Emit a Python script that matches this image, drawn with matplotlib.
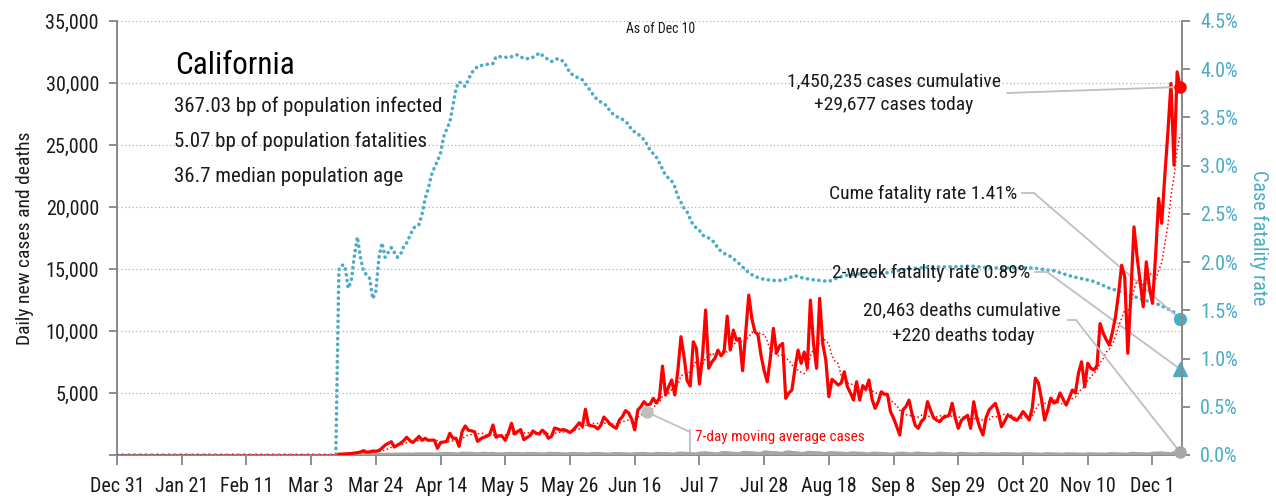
import numpy as np
import pandas as pd
import matplotlib
matplotlib.use('Agg')
import matplotlib.pyplot as plt
from matplotlib import font_manager
from matplotlib.ticker import FuncFormatter, MultipleLocator
from matplotlib.lines import Line2D

# ---------------- data ----------------
start_date = '2019-12-31'

cases = [
    0, 0, 0, 0, 0, 0, 0,
    0, 0, 0, 0, 0, 0, 0,
    0, 0, 0, 0, 0, 0, 0,
    0, 0, 0, 0, 0, 0, 0,
    0, 0, 0, 0, 0, 0, 0,
    0, 0, 0, 0, 0, 0, 0,
    0, 0, 0, 0, 0, 0, 0,
    0, 0, 0, 0, 0, 0, 0,
    0, 0, 0, 0, 0, 0, 0,
    0, 0, 0, 0, 0, 0, 0,
    0, 0, 60, 70, 90, 100, 120,
    150, 190, 240, 350, 230, 250, 320,
    300, 360, 560, 800, 940, 1070, 640,
    800, 940, 1150, 1430, 1180, 1000, 1250,
    1500, 1180, 1350, 1180, 1200, 1180, 540,
    1000, 1050, 1100, 1750, 1350, 1350, 700,
    1900, 2340, 2000, 1950, 1880, 1100, 1300,
    1430, 1500, 1690, 2420, 1430, 1560, 1500,
    1180, 1800, 2550, 1690, 1900, 2050, 1240,
    1400, 1560, 1940, 1750, 1690, 2000, 1800,
    1350, 1500, 2180, 2100, 2000, 2050, 1950,
    1810, 2000, 2300, 2600, 2300, 3690, 2420,
    2350, 2300, 2100, 2400, 3060, 2800, 2500,
    2300, 2150, 2820, 3090, 3580, 3400, 2900,
    2020, 3630, 3900, 4300, 4030, 4100, 4570,
    4200, 4600, 7170, 4840, 5500, 6050, 4840,
    6800, 9540, 7920, 6000, 5560, 9130, 8600,
    5720, 8000, 11690, 6990, 7500, 7790, 8460,
    8000, 8300, 11200, 8460, 10075, 9270, 9400,
    6800, 9800, 12900, 11000, 9940, 9700, 8000,
    6800, 5910, 7800, 10210, 8200, 8800, 9000,
    4570, 5000, 5240, 7000, 8460, 7390, 8300,
    7000, 12490, 9000, 6990, 12630, 9000, 7660,
    4700, 6100, 5900, 5640, 5800, 6710, 5500,
    5000, 4430, 5910, 4430, 5600, 5300, 6050,
    4500, 3760, 4300, 5100, 4900, 4900, 3500,
    2960, 2300, 1610, 3630, 3900, 4430, 3300,
    2400, 2150, 2700, 2960, 4300, 3600, 3000,
    2800, 2690, 3000, 3100, 3200, 4170, 3000,
    2150, 2800, 3000, 3200, 2150, 4300, 3000,
    2200, 1610, 3000, 3630, 3900, 4170, 3400,
    2280, 2700, 3200, 3100, 2900, 2800, 3100,
    3500, 3200, 2820, 3800, 6200, 5800, 4500,
    2820, 3600, 4590, 4190, 4300, 5000, 4500,
    4030, 4600, 5240, 5000, 6610, 7520, 5500,
    7400, 7000, 6850, 7200, 10600, 9830, 9300,
    8870, 9900, 11150, 13030, 15300, 14370, 8200,
    13000, 18400, 16000, 14000, 11950, 15580, 13500,
    12230, 16000, 20690, 18680, 22500, 26000, 29960,
    23370, 30900, 29677,
]

deaths = [
    0, 0, 0, 0, 0, 0, 0,
    0, 0, 0, 0, 0, 0, 0,
    0, 0, 0, 0, 0, 0, 0,
    0, 0, 0, 0, 0, 0, 0,
    0, 0, 0, 0, 0, 0, 0,
    0, 0, 0, 0, 0, 0, 0,
    0, 0, 0, 0, 0, 0, 0,
    0, 0, 0, 0, 0, 0, 0,
    0, 0, 0, 0, 0, 0, 0,
    0, 0, 0, 0, 0, 0, 0,
    0, 0, 1, 2, 1, 0, 1,
    3, 2, 5, 3, 4, 6, 8,
    10, 12, 14, 18, 20, 15, 25,
    23, 30, 28, 40, 35, 27, 50,
    60, 45, 60, 48, 50, 30, 40,
    70, 80, 90, 65, 70, 50, 40,
    110, 95, 85, 90, 65, 50, 80,
    95, 80, 70, 90, 60, 55, 45,
    70, 85, 80, 75, 90, 60, 45,
    80, 75, 85, 70, 60, 50, 40,
    95, 75, 70, 85, 60, 50, 40,
    70, 80, 75, 60, 65, 50, 45,
    70, 80, 75, 65, 60, 40, 35,
    75, 70, 80, 60, 55, 40, 30,
    65, 70, 75, 80, 60, 45, 40,
    90, 85, 80, 70, 60, 40, 35,
    100, 110, 90, 80, 70, 50, 40,
    110, 120, 140, 100, 90, 60, 50,
    130, 150, 140, 120, 100, 80, 60,
    160, 170, 150, 130, 120, 90, 80,
    190, 200, 160, 150, 140, 100, 90,
    180, 210, 160, 150, 120, 90, 80,
    160, 170, 150, 140, 130, 90, 60,
    140, 150, 130, 120, 110, 80, 60,
    120, 130, 110, 100, 90, 60, 40,
    100, 110, 90, 80, 70, 50, 30,
    30, 90, 100, 110, 80, 60, 40,
    100, 110, 90, 80, 70, 50, 30,
    90, 100, 80, 70, 60, 40, 30,
    80, 90, 70, 60, 50, 40, 30,
    70, 80, 60, 55, 50, 35, 25,
    65, 70, 60, 55, 45, 30, 25,
    60, 65, 55, 50, 45, 30, 20,
    55, 60, 50, 45, 40, 30, 20,
    50, 55, 45, 40, 35, 25, 20,
    50, 60, 45, 40, 40, 30, 25,
    60, 70, 55, 50, 45, 30, 25,
    80, 90, 70, 60, 50, 40, 35,
    100, 110, 120, 130, 100, 80, 60,
    150, 190, 220,
]

# cumulative case fatality rate (%), day offset from start
cfr_day = [0, 71, 72, 73, 74, 75, 76, 77, 78, 79, 80, 81, 82, 83, 84, 85, 86, 87, 88,
           89, 90, 91, 92, 93, 94, 95, 96, 97, 98, 99, 100, 101, 102, 103, 104, 105,
           106, 107, 108, 109, 110, 111, 113, 114, 115, 117, 120, 122, 123, 125, 127,
           130, 132, 134, 136, 137, 139, 141, 143, 145, 147, 149, 151, 154, 155, 157,
           159, 160, 162, 164, 166, 167, 169, 171, 172, 173, 175, 176, 178, 180, 181,
           182, 184, 185, 187, 189, 190, 192, 194, 195, 197, 199, 201, 203, 205, 207,
           210, 213, 216, 220, 222, 225, 228, 231, 234, 236, 241, 245, 250, 255, 260,
           265, 270, 277, 283, 290, 297, 304, 310, 317, 322, 327, 332, 338, 342, 344,
           345]
cfr_pct = [0.0, 0.0, 1.92, 1.97, 1.96, 1.73, 1.80, 2.06, 2.26, 2.05, 1.90, 1.87, 1.83,
           1.62, 1.70, 2.05, 2.20, 2.05, 2.10, 2.15, 2.10, 2.05, 2.08, 2.16, 2.20, 2.27,
           2.34, 2.38, 2.39, 2.50, 2.66, 2.76, 2.90, 2.98, 3.05, 3.13, 3.30, 3.38, 3.45,
           3.62, 3.80, 3.87, 3.82, 3.89, 3.96, 4.03, 4.05, 4.06, 4.13, 4.13, 4.12, 4.15,
           4.11, 4.11, 4.14, 4.17, 4.12, 4.08, 4.11, 4.08, 3.96, 3.92, 3.89, 3.76, 3.71,
           3.66, 3.62, 3.56, 3.51, 3.48, 3.43, 3.37, 3.33, 3.27, 3.22, 3.16, 3.09, 3.03,
           2.90, 2.84, 2.78, 2.68, 2.56, 2.52, 2.38, 2.33, 2.28, 2.25, 2.20, 2.14, 2.09,
           2.06, 2.01, 1.95, 1.89, 1.85, 1.82, 1.81, 1.81, 1.86, 1.84, 1.82, 1.81, 1.80,
           1.84, 1.86, 1.88, 1.88, 1.89, 1.92, 1.94, 1.95, 1.95, 1.96, 1.94, 1.94, 1.94,
           1.91, 1.85, 1.80, 1.73, 1.68, 1.62, 1.56, 1.50, 1.46, 1.41]

two_week_rate = 0.89
cume_rate = 1.41
cases_today = 29677
deaths_today = 220
title = 'California'
stats_lines = ['367.03 bp of population infected',
               '5.07 bp of population fatalities',
               '36.7 median population age']
cases_note = ['1,450,235 cases cumulative', '+29,677 cases today']
deaths_note = ['20,463 deaths cumulative', '+220 deaths today']
cume_note = 'Cume fatality rate 1.41%'
twowk_note = '2-week fatality rate 0.89%'
asof = 'As of Dec 10'
ma_label = '7-day moving average cases'
legend_day = 172

# ---------------- style ----------------
avail = {f.name for f in font_manager.fontManager.ttflist}
FONT = 'DejaVu Sans'
STRETCH = 'normal'
for cand in ['Roboto Condensed', 'Liberation Sans Narrow', 'Open Sans Condensed']:
    if cand in avail:
        FONT = cand
        break
else:
    STRETCH = 'condensed'
plt.rcParams['font.family'] = [FONT, 'DejaVu Sans']
plt.rcParams['font.stretch'] = STRETCH

RED = '#FF0000'
TEAL = '#4BACC6'
GRAY = '#A6A6A6'
AX_GRAY = '#8C8C8C'
LEAD = '#BFBFBF'
TXT = '#1A1A1A'

W, H = 1276, 500
fig = plt.figure(figsize=(W / 100, H / 100), dpi=100)
ax = fig.add_axes([117 / W, 45 / H, (1182 - 117) / W, (455 - 21) / H])
ax2 = ax.twinx()

start = pd.Timestamp(start_date)
dates = pd.date_range(start, periods=len(cases), freq='D')
s_cases = pd.Series(cases, index=dates, dtype=float)
s_deaths = pd.Series(deaths, index=dates, dtype=float)
ma = s_cases.rolling(7, min_periods=1).mean()

first_case = s_cases[s_cases > 0].index[0]
first_death = s_deaths[s_deaths > 0].index[0]

# teal cfr on right axis
cfr_dates = [start + pd.Timedelta(days=d) for d in cfr_day]
ax2.plot(cfr_dates, cfr_pct, color=TEAL, lw=2.6, linestyle=(0, (0.05, 1.55)),
         dash_capstyle='round', zorder=2)

# left axis series
ax.plot(ma.index, ma.values, color=RED, lw=1.1, linestyle=(0, (1, 1.6)), zorder=3)
sc = s_cases[s_cases.index >= first_case]
ax.plot(sc.index, sc.values, color=RED, lw=2.3, zorder=4, solid_joinstyle='round')
sd = s_deaths[s_deaths.index >= first_death]
ax.plot(sd.index, sd.values, color=GRAY, lw=3.0, zorder=3.5)

end = dates[-1]
ax.plot([end], [cases_today], 'o', color=RED, ms=8, clip_on=False, zorder=6)
ax.plot([end], [deaths_today], 'o', color=GRAY, ms=8, clip_on=False, zorder=6)
ax2.plot([end], [cume_rate], 'o', color=TEAL, ms=8.5, clip_on=False, zorder=6)
ax2.plot([end], [two_week_rate], '^', color=TEAL, ms=9.5, clip_on=False, zorder=6)

# legend dot on MA line
leg_date = start + pd.Timedelta(days=legend_day)
ax.plot([leg_date], [ma.loc[leg_date]], 'o', color='#BFBFBF', ms=8, zorder=6)

ax.set_zorder(ax2.get_zorder() + 1)
ax.patch.set_visible(False)

# axes limits and ticks
ax.set_xlim(start, end + pd.Timedelta(hours=14))
ax.set_ylim(0, 35000)
ax2.set_ylim(0, 4.5)
xt = pd.date_range(start, end, freq='21D')
ax.set_xticks(xt)
ax.set_xticklabels([f"{d:%b} {d.day}" for d in xt])
ax.yaxis.set_major_locator(MultipleLocator(5000))
ax.yaxis.set_major_formatter(FuncFormatter(lambda v, p: '' if v == 0 else f'{v:,.0f}'))
ax2.yaxis.set_major_locator(MultipleLocator(0.5))
ax2.yaxis.set_major_formatter(FuncFormatter(lambda v, p: f'{v:.1f}%'))

for a in (ax, ax2):
    a.spines['top'].set_visible(False)
    for sp in ('left', 'right', 'bottom'):
        a.spines[sp].set_color(AX_GRAY)
        a.spines[sp].set_linewidth(1.4)

ax.tick_params(axis='x', direction='out', length=7, width=1.4, color=AX_GRAY,
               labelsize=14.5, pad=9, labelcolor=TXT)
ax.tick_params(axis='y', direction='out', length=6, width=1.4, color=AX_GRAY,
               labelsize=14.5, pad=7, labelcolor=TXT)
ax2.tick_params(axis='y', direction='out', length=6, width=1.4, color=AX_GRAY,
                labelsize=14.5, pad=7, labelcolor=TEAL)

ax.yaxis.grid(True, linestyle=(0, (1, 2)), color='#B0B0B0', lw=0.9)
ax.set_axisbelow(True)

ax.set_ylabel('Daily new cases and deaths', fontsize=14, color=TXT, labelpad=8)
ax2.set_ylabel('Case fatality rate', fontsize=14.5, color=TEAL, rotation=270, labelpad=22)


def P(x, y):
    return (x / W, 1 - y / H)


# texts
fig.text(*P(175, 66), title, fontsize=22.5, color='black', ha='left', va='center')
for i, line in enumerate(stats_lines):
    fig.text(*P(174, 106 + 35.5 * i), line, fontsize=15, color=TXT, ha='left', va='center')
fig.text(*P(661, 29), asof, fontsize=10, color=TXT, ha='center', va='center')
fig.text(*P(894, 81), cases_note[0], fontsize=14, color=TXT, ha='center', va='center')
fig.text(*P(894, 105), cases_note[1], fontsize=14, color=TXT, ha='center', va='center')
fig.text(*P(1017, 194), cume_note, fontsize=14, color=TXT, ha='right', va='center')
fig.text(*P(1030, 273), twowk_note, fontsize=14, color=TXT, ha='right', va='center')
fig.text(*P(962, 310), deaths_note[0], fontsize=14, color=TXT, ha='center', va='center')
fig.text(*P(963, 336), deaths_note[1], fontsize=14, color=TXT, ha='center', va='center')
fig.text(*P(695, 437), ma_label, fontsize=11, color=RED, ha='left', va='center')


def fig_line(pts):
    xs = [p[0] / W for p in pts]
    ys = [1 - p[1] / H for p in pts]
    fig.add_artist(Line2D(xs, ys, color=LEAD, lw=1.3, transform=fig.transFigure, zorder=1))


def lead(a, xy_fig_px, xy_data):
    a.annotate('', xy=xy_data, xycoords='data',
               xytext=(xy_fig_px[0], H - xy_fig_px[1]), textcoords='figure pixels',
               arrowprops=dict(arrowstyle='-', color=LEAD, lw=1.3, shrinkA=0, shrinkB=0),
               annotation_clip=False, zorder=5)


lead(ax, (1007, 93), (end, cases_today))
fig_line([(1022, 193), (1034, 193)])
lead(ax2, (1034, 193), (end, cume_rate))
fig_line([(1035, 272), (1047, 272)])
lead(ax2, (1047, 272), (end, two_week_rate))
fig_line([(1068, 320), (1076, 320)])
lead(ax, (1076, 320), (end, deaths_today))
fig_line([(690, 430), (690, 451)])
lead(ax, (690, 432), (leg_date, ma.loc[leg_date]))

fig.savefig('out.png', dpi=100)
